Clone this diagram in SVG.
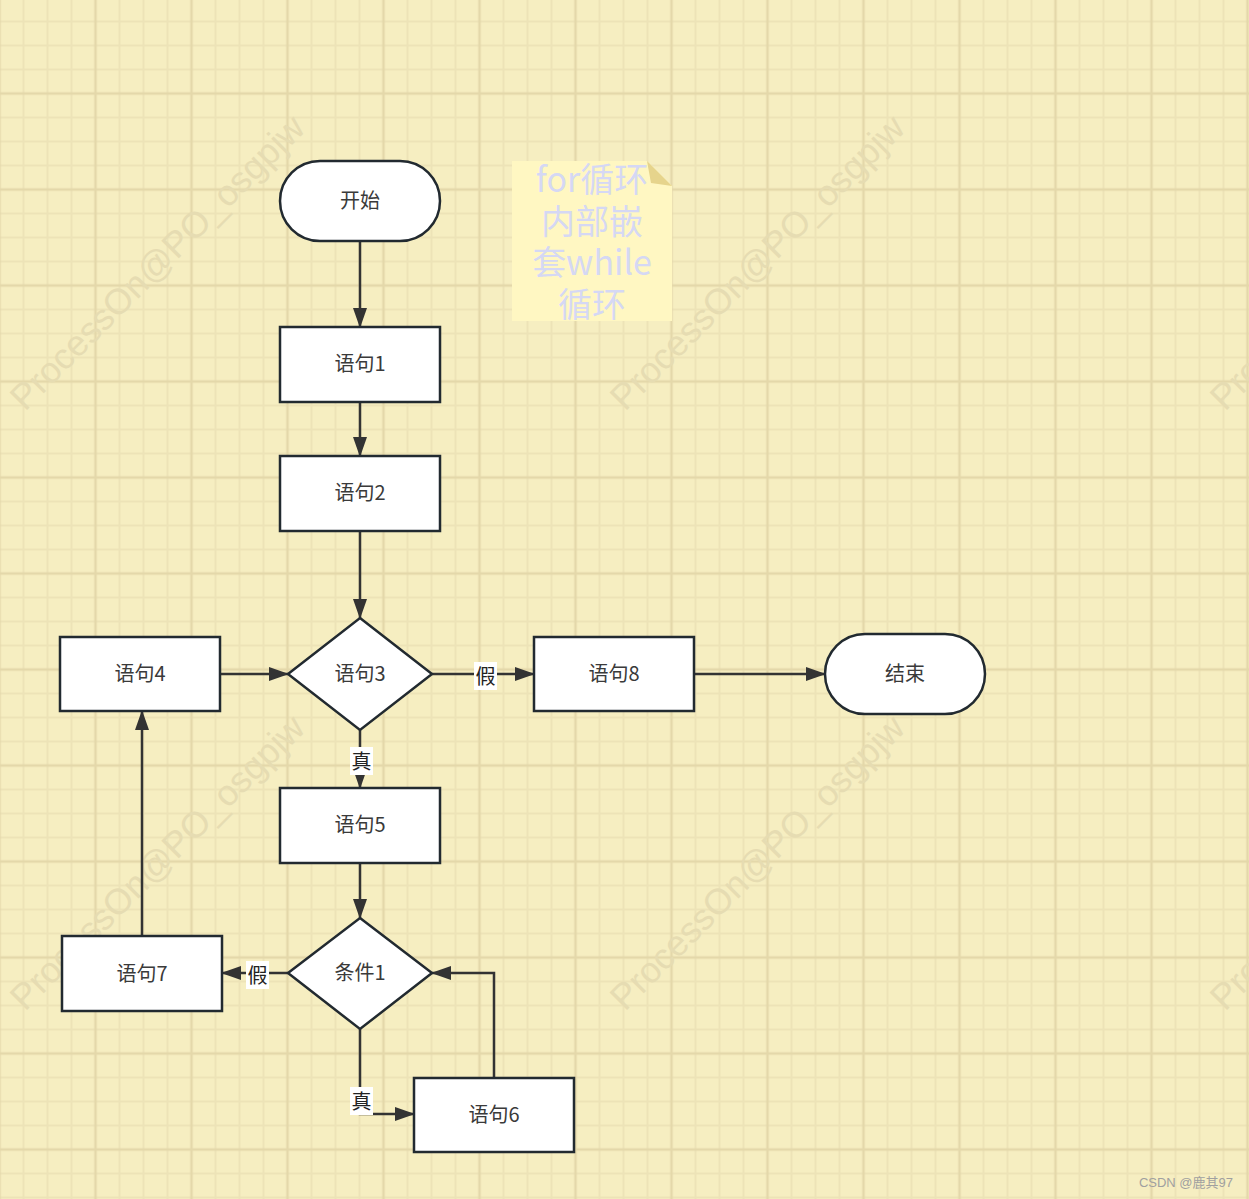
<svg xmlns="http://www.w3.org/2000/svg" width="1249" height="1199" viewBox="0 0 1249 1199">
<defs>
<pattern id="grid" patternUnits="userSpaceOnUse" x="-0.5" y="-2.5" width="96" height="96">
<rect width="96" height="96" fill="#f6eec1"/>
<path d="M24 0V96M48 0V96M72 0V96M0 24H96M0 48H96M0 72H96" stroke="#ede3b7" stroke-width="2" fill="none"/>
<path d="M0 0V96M96 0V96M0 0H96M0 96H96" stroke="#e4d8aa" stroke-width="2.5" fill="none"/>
</pattern>
<marker id="arr" markerUnits="userSpaceOnUse" markerWidth="20" markerHeight="14" viewBox="0 0 20 14" refX="19" refY="7" orient="auto">
<path d="M0,0L20,7L0,14z" fill="#333"/>
</marker>
<style>
.node{fill:#fff;stroke:#222a30;stroke-width:2.5}
.lbl{font-family:"Noto Sans CJK SC","Noto Sans",sans-serif;font-size:20px;fill:#3a3a3a;text-anchor:middle}
.edge{fill:none;stroke:#333;stroke-width:2.5}
.elbl{font-family:"Noto Sans CJK SC",sans-serif;font-size:20px;fill:#222;text-anchor:middle}
.wm{font-family:"Liberation Sans",Arial,sans-serif;font-size:36px;fill:#e6dcb2}
.note{font-family:"Noto Sans CJK SC","Noto Sans",sans-serif;font-size:34px;fill:#d5d8f4;text-anchor:middle}
</style>
</defs>
<rect width="1249" height="1199" fill="url(#grid)"/>
<g id="watermarks">
<text class="wm" transform="translate(25,412) rotate(-45)">ProcessOn@PO_osgpjw</text>
<text class="wm" transform="translate(625,412) rotate(-45)">ProcessOn@PO_osgpjw</text>
<text class="wm" transform="translate(1225,412) rotate(-45)">ProcessOn@PO_osgpjw</text>
<text class="wm" transform="translate(25,1012) rotate(-45)">ProcessOn@PO_osgpjw</text>
<text class="wm" transform="translate(625,1012) rotate(-45)">ProcessOn@PO_osgpjw</text>
<text class="wm" transform="translate(1225,1012) rotate(-45)">ProcessOn@PO_osgpjw</text>
</g>
<g id="note">
<polygon points="512,161 647,161 672,186 672,321 512,321" fill="#fff7c2"/>
<polygon points="647,161 672,186 651,183" fill="#e6d48c"/>
<text class="note" x="592" y="192">for循环</text>
<text class="note" x="592" y="234">内部嵌</text>
<text class="note" x="592" y="275">套while</text>
<text class="note" x="592" y="317">循环</text>
</g>
<g id="connectors">
<path class="edge" d="M360 241V327" marker-end="url(#arr)"/>
<path class="edge" d="M360 402V456" marker-end="url(#arr)"/>
<path class="edge" d="M360 531V618" marker-end="url(#arr)"/>
<path class="edge" d="M220 674H288" marker-end="url(#arr)"/>
<path class="edge" d="M432 674H534" marker-end="url(#arr)"/>
<path class="edge" d="M694 674H825" marker-end="url(#arr)"/>
<path class="edge" d="M360 730V788" marker-end="url(#arr)"/>
<path class="edge" d="M360 863V918" marker-end="url(#arr)"/>
<path class="edge" d="M288 973H222" marker-end="url(#arr)"/>
<path class="edge" d="M360 1029V1114H414" marker-end="url(#arr)"/>
<path class="edge" d="M494 1078V973H432" marker-end="url(#arr)"/>
<path class="edge" d="M142 936V711" marker-end="url(#arr)"/>
<rect x="474" y="662" width="23" height="28" fill="#fff"/>
<text class="elbl" x="485.5" y="684">假</text>
<rect x="350" y="747" width="23" height="28" fill="#fff"/>
<text class="elbl" x="361.5" y="769">真</text>
<rect x="246" y="961" width="23" height="28" fill="#fff"/>
<text class="elbl" x="257.5" y="983">假</text>
<rect x="350" y="1087" width="23" height="28" fill="#fff"/>
<text class="elbl" x="361.5" y="1109">真</text>
</g>
<g id="start"><rect class="node" x="280" y="161" width="160" height="80" rx="40"/><text class="lbl" x="360" y="208">开始</text></g>
<g id="s1"><rect class="node" x="280" y="327" width="160" height="75"/><text class="lbl" x="360" y="371">语句1</text></g>
<g id="s2"><rect class="node" x="280" y="456" width="160" height="75"/><text class="lbl" x="360" y="500">语句2</text></g>
<g id="s3"><polygon class="node" points="360,618 432,674 360,730 288,674"/><text class="lbl" x="360" y="681">语句3</text></g>
<g id="s4"><rect class="node" x="60" y="637" width="160" height="74"/><text class="lbl" x="140" y="681">语句4</text></g>
<g id="s8"><rect class="node" x="534" y="637" width="160" height="74"/><text class="lbl" x="614" y="681">语句8</text></g>
<g id="end"><rect class="node" x="825" y="634" width="160" height="80" rx="40"/><text class="lbl" x="905" y="681">结束</text></g>
<g id="s5"><rect class="node" x="280" y="788" width="160" height="75"/><text class="lbl" x="360" y="832">语句5</text></g>
<g id="c1"><polygon class="node" points="360,918 432,973 360,1029 288,973"/><text class="lbl" x="360" y="980">条件1</text></g>
<g id="s7"><rect class="node" x="62" y="936" width="160" height="75"/><text class="lbl" x="142" y="981">语句7</text></g>
<g id="s6"><rect class="node" x="414" y="1078" width="160" height="74"/><text class="lbl" x="494" y="1122">语句6</text></g>
<text x="1233" y="1187" font-family="'Liberation Sans','Noto Sans CJK SC',sans-serif" font-size="13" fill="#a0a0a0" text-anchor="end">CSDN @鹿其97</text>
</svg>
